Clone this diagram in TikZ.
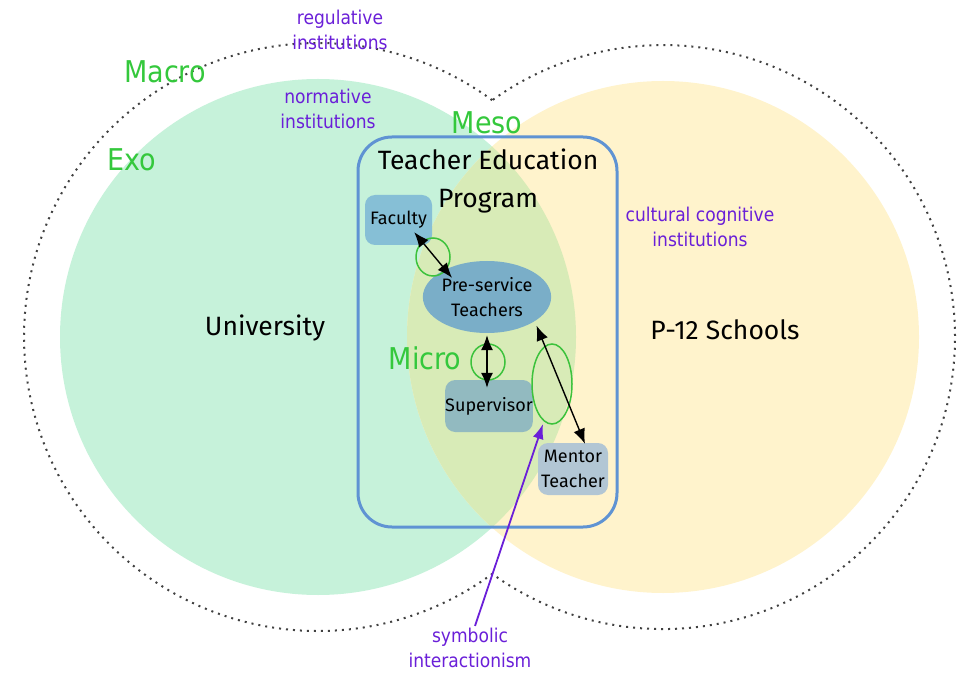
\documentclass[tikz,border=0pt]{standalone}
\usepackage{fontspec}
\setmainfont{DejaVu Sans Condensed}
\newfontfamily\hand{Fira Sans}
\usetikzlibrary{arrows.meta,shapes.geometric}
\definecolor{grnfill}{HTML}{C6F2DA}
\definecolor{ylwfill}{HTML}{FFF3CC}
\definecolor{lensfill}{HTML}{D8EBB7}
\definecolor{lblgreen}{HTML}{34C83C}
\definecolor{lblpurple}{HTML}{6A1FD8}
\definecolor{progblue}{HTML}{5F93D3}
\definecolor{facfill}{HTML}{86BFD6}
\definecolor{prefill}{HTML}{7AAEC8}
\definecolor{supfill}{HTML}{92BAC0}
\definecolor{menfill}{HTML}{B2C6D4}
\definecolor{ringgreen}{HTML}{3CC23C}
\tikzset{
  lvl/.style={text=lblgreen, font=\fontsize{30}{34}\selectfont, inner sep=0pt},
  inst/.style={text=lblpurple, font=\fontsize{19}{25}\selectfont, align=center, inner sep=0pt},
  bigh/.style={font=\hand\fontsize{26.5}{38}\selectfont, align=center, inner sep=0pt},
  actor/.style={font=\hand\fontsize{18}{25}\selectfont, align=center, rounded corners=10pt, inner sep=0pt},
  ring/.style={draw=ringgreen, line width=1.5pt},
  link/.style={{Latex[length=15pt,width=12pt]}-{Latex[length=15pt,width=12pt]}, line width=1.4pt, black}
}
\begin{document}
\begin{tikzpicture}[x=1pt,y=1pt]
\useasboundingbox (0,0) rectangle (961,673);
% circles
\fill[grnfill] (318,336) circle (258);
\fill[ylwfill] (663,336) circle (256);
\begin{scope}
  \clip (318,336) circle (258);
  \fill[lensfill] (663,336) circle (256);
\end{scope}
% dotted outline
\draw[line width=2pt, dash pattern=on 2pt off 5pt, black!75]
  (492.2,572.8) arc[start angle=53.67, end angle=306.33, radius=294]
  arc[start angle=-125.8, end angle=125.8, radius=292];
% program box
\draw[progblue, line width=3pt, rounded corners=34pt] (358,146) rectangle (617,536);
% labels
\node[inst] (reg) at (340,643) {regulative\\institutions};
\node[lvl] (macro) at (165,601) {Macro};
\node[lvl] (exo) at (132,513) {Exo};
\node[inst] (norm) at (328,564) {normative\\institutions};
\node[lvl] (meso) at (487,550) {Meso};
\node[inst] (cult) at (700,446) {cultural cognitive\\institutions};
\node[bigh] (uni) at (265,345) {University};
\node[bigh] (p12) at (725,343) {P-12 Schools};
\node[bigh] (tep) at (488,492) {Teacher Education\\Program};
\node[lvl] (micro) at (425,315) {Micro};
% actors
\node[actor, fill=facfill, minimum width=67pt, minimum height=50pt] (fac) at (398.5,453) {Faculty};
\node[actor, ellipse, fill=prefill, minimum width=104pt, minimum height=72pt] (pre) at (487,376) {Pre-service\\Teachers};
\node[actor, fill=supfill, minimum width=82pt, minimum height=52pt] (sup) at (489,267) {Supervisor};
\node[actor, fill=menfill, minimum width=70pt, minimum height=52pt] (men) at (573,204) {Mentor\\Teacher};
% rings
\draw[ring] (433,416) ellipse (17 and 19);
\draw[ring] (488,311) ellipse (17 and 18);
\draw[ring] (552,289) ellipse (20 and 40);
% links
\draw[link] ([xshift=-18pt,yshift=13pt]fac.south east) -- ([xshift=-35pt,yshift=-17pt]pre.north);
\draw[link] ([yshift=-2pt]pre.south) -- ([xshift=-2pt,yshift=-8pt]sup.north);
\draw[link] ([xshift=4pt,yshift=-3pt]pre.south east) -- ([xshift=12pt,yshift=-1pt]men.north);
% symbolic interactionism
\node[inst] (sym) at (470,25) {symbolic\\interactionism};
\coordinate (symtip) at (543,249);
\draw[lblpurple, line width=1.8pt, -{Latex[length=15pt,width=11pt]}] ([xshift=5pt,yshift=2pt]sym.north) -- (symtip);
\end{tikzpicture}
\end{document}
